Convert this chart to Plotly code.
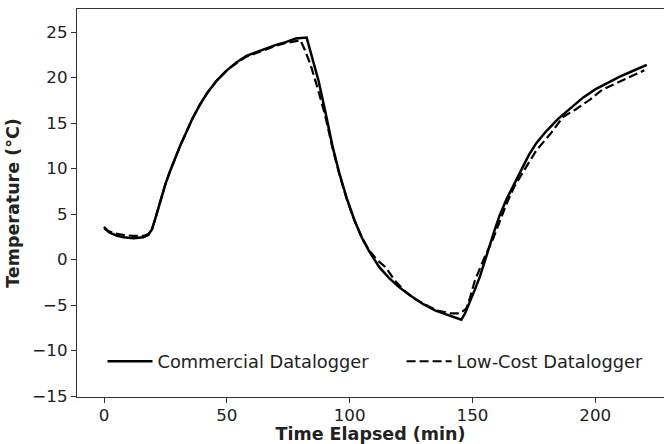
import plotly.graph_objects as go

# Commercial datalogger (solid)
comm_t = [0, 2, 5, 8, 12, 16, 18, 19.5, 21, 23, 25, 27, 29, 31, 33, 36, 39, 42, 46, 50, 54, 58,
          62, 66, 70, 74, 78, 82.5, 84, 87.3, 90, 93, 96, 99, 102, 105, 108, 112, 116, 120, 125,
          130, 135, 140, 145.5, 147, 149, 151, 153, 155, 157, 159, 161, 164, 167, 170, 173, 176,
          180, 185, 190, 195, 200, 205, 210, 215, 221]
comm_temp = [3.6, 3.0, 2.65, 2.45, 2.35, 2.45, 2.7, 3.3, 4.6, 6.6, 8.3, 9.8, 11.2, 12.5, 13.7,
             15.5, 17.0, 18.3, 19.7, 20.8, 21.7, 22.4, 22.8, 23.2, 23.6, 23.9, 24.3, 24.4, 23.0,
             19.7, 16.4, 12.5, 9.3, 6.6, 4.3, 2.4, 0.9, -0.8, -2.0, -3.0, -4.0, -4.9, -5.6, -6.1,
             -6.6, -5.9, -4.65, -3.3, -1.9, -0.3, 1.5, 3.2, 4.8, 6.7, 8.3, 9.9, 11.5, 12.8, 14.1,
             15.5, 16.7, 17.8, 18.7, 19.4, 20.1, 20.7, 21.4]

# Low-cost datalogger (dashed)
low_t = [0, 2, 5, 8, 12, 16, 18, 19.5, 21, 23, 25, 27, 29, 31, 33, 36, 39, 42, 46, 50, 54, 58,
         62, 66, 70, 74, 78, 80, 81.5, 84, 87, 90, 93, 96, 99, 102, 105, 108, 111, 114.5, 119,
         123, 127, 131.5, 135.5, 141, 145, 147.5, 149, 151, 153, 155, 158, 161, 164, 167, 171,
         176, 182, 187, 192, 198, 203, 207, 214, 220]
low_temp = [3.4, 3.1, 2.85, 2.7, 2.6, 2.6, 2.8, 3.3, 4.6, 6.6, 8.3, 9.8, 11.2, 12.5, 13.7, 15.5,
            17.0, 18.3, 19.7, 20.8, 21.6, 22.3, 22.7, 23.1, 23.5, 23.8, 24.0, 24.1, 23.2, 21.5,
            18.8, 15.9, 12.3, 9.2, 6.5, 4.3, 2.4, 1.0, 0.0, -0.8, -2.5, -3.6, -4.4, -5.0, -5.6,
            -5.9, -5.9, -5.4, -4.2, -2.3, -1.0, 0.3, 2.0, 4.2, 6.2, 8.0, 9.8, 12.0, 13.9, 15.7,
            16.5, 17.6, 18.7, 19.2, 20.1, 20.8]

x_ticks = [0, 50, 100, 150, 200]
y_ticks = [-15, -10, -5, 0, 5, 10, 15, 20, 25]

FONT = "DejaVu Sans"

fig = go.Figure()
fig.add_trace(go.Scatter(x=comm_t, y=comm_temp, mode="lines", name="Commercial Datalogger",
                         line=dict(color="black", width=2.5), legend="legend"))
fig.add_trace(go.Scatter(x=low_t, y=low_temp, mode="lines", name="Low-Cost Datalogger",
                         line=dict(color="black", width=2.2, dash="9px,4px"), legend="legend2"))

axis_common = dict(showgrid=False, zeroline=False, showline=True, linecolor="#333333",
                   linewidth=1.2, ticks="outside", ticklen=5, tickwidth=1.1, tickcolor="#333333",
                   tickfont=dict(family=FONT, size=16.7, color="#222222"))

legend_common = dict(orientation="h", xanchor="left", y=0.091, yanchor="middle",
                     font=dict(family=FONT, size=17.8, color="#222222"),
                     bgcolor="rgba(0,0,0,0)", itemwidth=45)

fig.update_layout(
    width=664, height=444,
    margin=dict(l=77, r=0, t=9, b=47),
    paper_bgcolor="white", plot_bgcolor="white",
    font=dict(family=FONT, color="#222222"),
    xaxis=dict(range=[-11, 228], tickvals=x_ticks, mirror=True, ticklabelstandoff=-2,
               title=dict(text="<b>Time Elapsed (min)</b>", font=dict(family=FONT, size=17.5),
                          standoff=5),
               **axis_common),
    yaxis=dict(range=[-15.1, 27.54], tickvals=y_ticks,
               title=dict(text="<b>Temperature (°C)</b>", font=dict(family=FONT, size=17.5),
                          standoff=8),
               **axis_common),
    legend=dict(x=0.0434, **legend_common),
    legend2=dict(x=0.553, **legend_common),
    showlegend=True,
)

fig.write_html("out.html")
